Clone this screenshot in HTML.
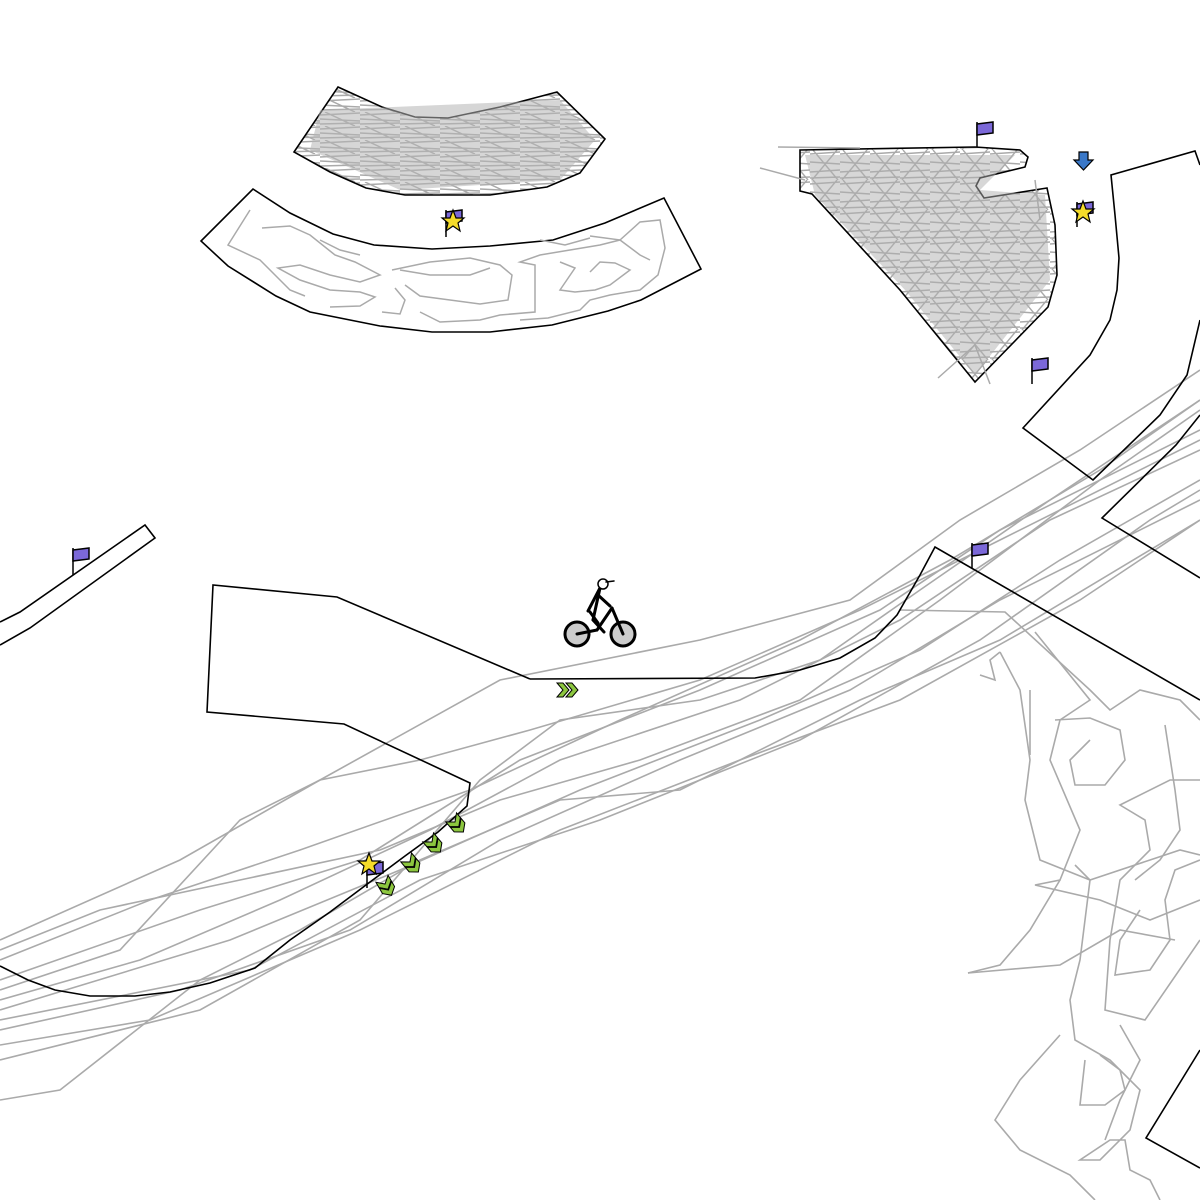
<!DOCTYPE html>
<html><head><meta charset="utf-8"><style>
html,body{margin:0;padding:0;background:#fff;width:1200px;height:1200px;overflow:hidden}
svg{display:block}
</style></head><body>
<svg width="1200" height="1200" viewBox="0 0 1200 1200" xmlns="http://www.w3.org/2000/svg">
<defs>
<pattern id="scr" width="40" height="14" patternUnits="userSpaceOnUse">
<rect width="40" height="14" fill="#fff"/>
<path d="M0 3 L40 1 M0 7 L40 9 M0 12 L40 11 M5 0 L35 14" stroke="#aaa" stroke-width="1.5" fill="none"/>
</pattern>
<pattern id="scr2" width="30" height="30" patternUnits="userSpaceOnUse">
<rect width="30" height="30" fill="#fff"/>
<path d="M0 4 L30 2 M0 12 L30 14 M0 22 L30 20 M3 0 L28 30 M27 0 L2 30 M0 28 L30 27" stroke="#aaa" stroke-width="1.4" fill="none"/>
</pattern>
</defs>

<!-- gray trajectory band -->
<g fill="none" stroke="#aaa" stroke-width="1.6">
<polyline points="0,940 180,860 320,780 500,680 700,640 850,600 960,520 1080,450 1200,370"/>
<polyline points="0,960 150,900 300,850 470,790 620,720 800,640 950,560 1100,470 1200,400"/>
<polyline points="0,980 200,910 360,860 520,760 700,690 880,610 1000,530 1200,430"/>
<polyline points="0,1000 140,960 280,900 430,830 560,760 740,700 900,620 1050,520 1200,450"/>
<polyline points="0,1010 230,940 400,870 580,790 760,720 920,650 1060,560 1200,480"/>
<polyline points="0,1030 180,990 350,930 500,840 680,760 850,690 1000,600 1200,500"/>
<polyline points="0,1045 150,1020 360,930 560,830 740,760 900,700 1080,600 1200,520"/>
<polyline points="0,1020 250,970 420,880 600,820 800,740 980,640 1150,520 1200,490"/>
<polyline points="0,990 120,950 240,820 320,780 420,760 530,730 700,680 860,610 1000,540 1200,440"/>
<polyline points="0,1100 60,1090 200,980 300,930 420,860 560,800 680,790 860,700 1000,640 1200,520"/>
<polyline points="0,950 100,910 240,880 380,850 500,800 640,760 800,700 940,600 1100,480 1200,410"/>
<polyline points="0,1060 200,1010 360,920 480,780 560,720 700,700 820,660 920,590 1050,500 1200,400"/>
</g>
<!-- lower right scribbles -->
<g fill="none" stroke="#aaa" stroke-width="1.6">
<polyline points="900,610 1005,612 1090,690 1110,710 1140,690 1180,700 1200,720"/>
<polyline points="1000,652 1020,690 1030,760 1025,800 1040,860 1090,880 1150,860 1180,850 1200,855"/>
<polyline points="1035,632 1090,700 1060,720 1050,760 1080,830 1060,880 1035,885 1100,900 1150,920 1200,900"/>
<polyline points="1090,740 1070,760 1075,785 1105,785 1125,760 1120,730 1090,718 1055,720"/>
<polyline points="1200,780 1170,780 1120,805 1145,820 1150,850 1120,880 1110,940 1105,1010 1145,1020 1200,940"/>
<polyline points="1075,865 1090,880 1080,960 1070,1000 1075,1040 1110,1060 1140,1090 1130,1130 1100,1160 1080,1160 1110,1140 1125,1140 1130,1170 1150,1180 1160,1200"/>
<polyline points="968,973 1000,965 1030,930 1060,880"/>
<polyline points="968,973 1060,965 1120,930 1175,940"/>
<polyline points="1200,860 1175,870 1165,900 1170,940 1150,970 1115,975 1120,940 1140,910"/>
<polyline points="1060,1035 1020,1080 995,1120 1020,1150 1070,1175 1095,1200"/>
<polyline points="1120,1025 1140,1060 1120,1100 1105,1140"/>
<polyline points="1085,1060 1080,1105 1105,1105 1125,1090 1120,1070 1100,1055"/>
<polyline points="1165,725 1175,790 1180,830 1160,860 1135,880"/>
<polyline points="980,675 995,680 990,660 1000,652"/>
<polyline points="1030,690 1030,755"/>
</g>

<!-- top arc (scribble filled) -->
<polygon points="338,87 382,107 415,117 448,118 500,107 557,92 605,139 580,173 547,187 490,195 405,195 366,188 330,172 294,152" fill="url(#scr)" stroke="#000" stroke-width="1.6"/>
<polygon points="320,110 560,100 595,140 560,180 400,190 310,150" fill="#b4b4b4" opacity="0.55"/>

<!-- lower arc -->
<polygon points="253,189 290,213 333,234 374,245 432,249 490,246 553,240 605,223 664,198 701,269 641,300 608,311 552,325 490,332 432,332 380,326 310,312 276,296 228,266 201,241" fill="#fff" stroke="#000" stroke-width="1.6"/>
<g fill="none" stroke="#aaa" stroke-width="1.5">
<polyline points="250,210 228,245 260,260 290,290 305,296"/>
<polyline points="262,228 290,226 310,235 335,255 355,262 380,275 360,282 330,275 300,265 278,268 300,280 330,290 360,292 375,297 360,306 330,307"/>
<polyline points="392,270 430,262 470,258 500,265 512,275 508,300 480,304 450,300 420,296 405,285"/>
<polyline points="400,270 430,275 470,275 490,268"/>
<polyline points="382,312 400,314 405,300 395,288"/>
<polyline points="420,312 440,322 480,320 500,315 535,312 535,265 520,262 540,255 570,250 600,245 620,240 640,255 650,260"/>
<polyline points="560,262 575,268 560,290 575,292 595,290 610,285 630,270 615,263 600,262 590,272"/>
<polyline points="590,236 620,240 640,222 660,220 665,248 658,275 640,290 610,295 590,300 580,310 548,318 520,320"/>
<polyline points="540,240 565,245 590,238"/>
<polyline points="320,240 340,250 360,255"/>
</g>

<!-- right top scribble shape -->
<polygon points="800,150 975,147 1020,150 1028,157 1025,167 980,178 976,186 984,198 1047,188 1055,225 1057,275 1048,307 975,382 900,290 812,194 800,191" fill="url(#scr2)" stroke="#000" stroke-width="1.6"/>
<polygon points="805,155 1015,155 980,190 1045,195 1050,280 975,375 905,290 815,195" fill="#b0b0b0" opacity="0.5"/>
<g stroke="#aaa" stroke-width="1.5" fill="none">
<polyline points="778,147 860,148"/><polyline points="760,168 805,180"/><polyline points="938,378 975,345 990,384"/><polyline points="1035,180 1040,220"/>
</g>

<!-- right band -->
<polyline points="1200,165 1195,151 1111,175 1115,215 1119,258 1117,290 1110,320 1090,355 1023,428 1093,480 1160,415 1187,375 1200,320" fill="none" stroke="#000" stroke-width="1.6"/>
<polyline points="1200,415 1176,445 1102,518 1200,578" fill="none" stroke="#000" stroke-width="1.6"/>
<polyline points="1200,1050 1146,1138 1200,1168" fill="none" stroke="#000" stroke-width="1.6"/>
<!-- left small ramp -->
<polyline points="0,622 20,612 145,525 155,538 30,628 0,645" fill="none" stroke="#000" stroke-width="1.6"/>
<!-- main track -->
<polyline points="530,679 337,597 213,585 207,712 344,724 470,783 467,806 438,832 405,856 370,882 330,912 290,940 255,968 210,983 170,992 135,996 90,996 55,990 28,980 0,966" fill="none" stroke="#000" stroke-width="1.6"/>
<polyline points="530,679 755,678 800,670 840,658 875,638 897,615 920,575 935,547 1200,700" fill="none" stroke="#000" stroke-width="1.6"/>

<!-- flags -->
<g stroke="#000" stroke-width="1.5">
<g transform="translate(73,548)"><line x1="0" y1="0" x2="0" y2="27"/><path d="M0 2 L16 0 L16 11 L0 13 Z" fill="#7b68d8"/></g>
<g transform="translate(977,122)"><line x1="0" y1="0" x2="0" y2="25"/><path d="M0 2 L16 0 L16 11 L0 13 Z" fill="#7b68d8"/></g>
<g transform="translate(1032,358)"><line x1="0" y1="0" x2="0" y2="26"/><path d="M0 2 L16 0 L16 11 L0 13 Z" fill="#7b68d8"/></g>
<g transform="translate(972,543)"><line x1="0" y1="0" x2="0" y2="25"/><path d="M0 2 L16 0 L16 11 L0 13 Z" fill="#7b68d8"/></g>
<g transform="translate(1077,202)"><line x1="0" y1="0" x2="0" y2="25"/><path d="M0 2 L16 0 L16 11 L0 13 Z" fill="#7b68d8"/></g>
<g transform="translate(446,210)"><line x1="0" y1="0" x2="0" y2="27"/><path d="M0 2 L16 0 L16 11 L0 13 Z" fill="#7b68d8"/></g>
<g transform="translate(367,862)"><line x1="0" y1="0" x2="0" y2="26"/><path d="M0 2 L16 0 L16 11 L0 13 Z" fill="#7b68d8"/></g>
</g>
<!-- stars -->
<g fill="#f5dc2a" stroke="#000" stroke-width="1.2">
<polygon transform="translate(453,221)" points="0,-11 3,-3 11,-3 5,2 7,10 0,5 -7,10 -5,2 -11,-3 -3,-3"/>
<polygon transform="translate(1083,212)" points="0,-11 3,-3 11,-3 5,2 7,10 0,5 -7,10 -5,2 -11,-3 -3,-3"/>
<polygon transform="translate(369,864)" points="0,-11 3,-3 11,-3 5,2 7,10 0,5 -7,10 -5,2 -11,-3 -3,-3"/>
</g>
<!-- blue arrow -->
<path d="M1079 152 L1088 152 L1088 160 L1093 160 L1083.5 170 L1074 160 L1079 160 Z" fill="#3a78c8" stroke="#000" stroke-width="1.2"/>
<!-- green chevrons -->
<g fill="#8cc63f" stroke="#000" stroke-width="1">
<path d="M557 683 L563 683 L569 690 L563 697 L557 697 L563 690 Z"/>
<path d="M566 683 L572 683 L578 690 L572 697 L566 697 L572 690 Z"/>
<g transform="translate(455,822) rotate(-40)"><path d="M-7 -6 L0 0 L7 -6 L7 0 L0 6 L-7 0 Z"/><path d="M-7 1 L0 7 L7 1 L7 7 L0 13 L-7 7 Z"/></g>
<g transform="translate(432,842) rotate(-40)"><path d="M-7 -6 L0 0 L7 -6 L7 0 L0 6 L-7 0 Z"/><path d="M-7 1 L0 7 L7 1 L7 7 L0 13 L-7 7 Z"/></g>
<g transform="translate(410,862) rotate(-40)"><path d="M-7 -6 L0 0 L7 -6 L7 0 L0 6 L-7 0 Z"/><path d="M-7 1 L0 7 L7 1 L7 7 L0 13 L-7 7 Z"/></g>
<g transform="translate(385,884) rotate(-30)"><path d="M-7 -6 L0 0 L7 -6 L7 0 L0 6 L-7 0 Z"/><path d="M-7 1 L0 7 L7 1 L7 7 L0 13 L-7 7 Z"/></g>
</g>

<!-- rider -->
<g stroke="#000" stroke-width="3" fill="none" stroke-linecap="round">
<circle cx="577" cy="634" r="12" fill="#ccc"/>
<circle cx="623" cy="634" r="12" fill="#ccc"/>
<line x1="577" y1="634" x2="597" y2="630" />
<line x1="597" y1="630" x2="612" y2="608"/>
<line x1="612" y1="608" x2="623" y2="634"/>
<line x1="588" y1="611" x2="600" y2="588"/>
<line x1="600" y1="588" x2="593" y2="620"/>
<line x1="593" y1="620" x2="604" y2="632"/>
<line x1="598" y1="595" x2="610" y2="606"/>
<line x1="590" y1="612" x2="598" y2="623"/>
<circle cx="603" cy="584" r="5" stroke-width="1.5" fill="#fff"/>
<line x1="606" y1="582" x2="614" y2="581" stroke-width="1.5"/>
</g>
</svg>
</body></html>
